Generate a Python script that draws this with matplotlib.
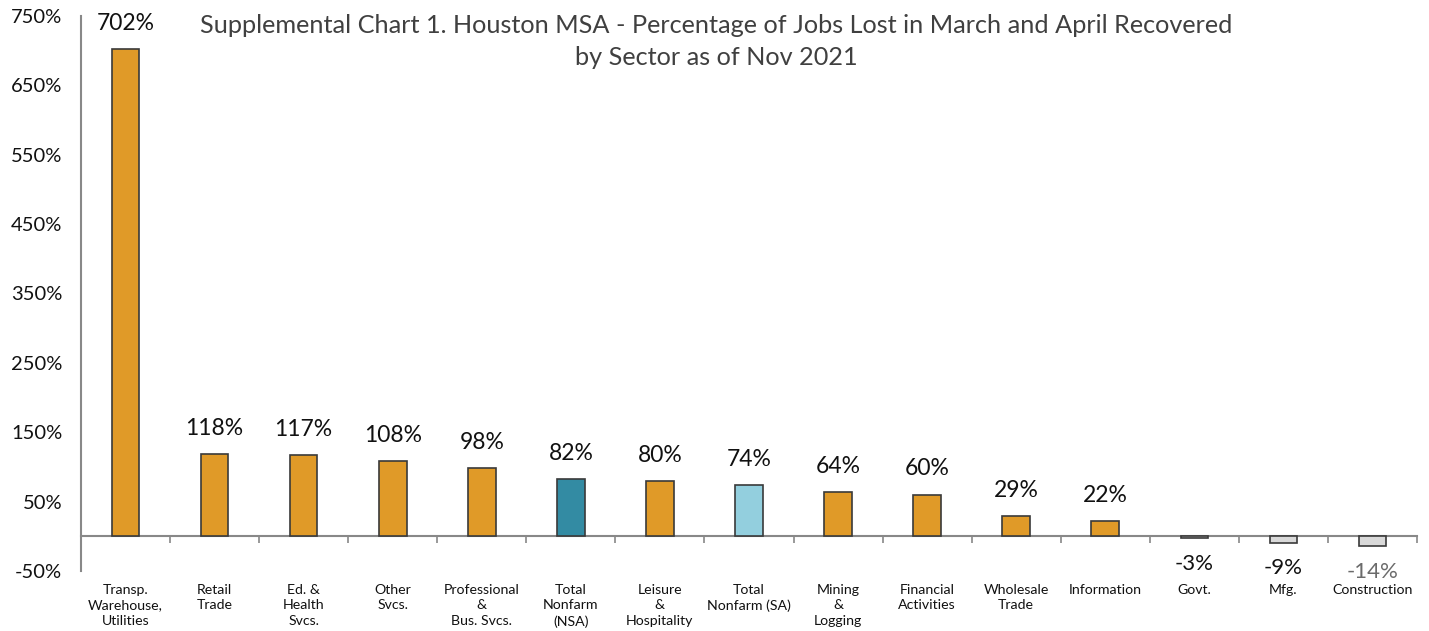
import matplotlib
matplotlib.use("Agg")
import matplotlib.pyplot as plt
import matplotlib.transforms as mtransforms
import numpy as np

plt.rcParams['font.family'] = ['Lato', 'DejaVu Sans']

categories = ["Transp.\nWarehouse,\nUtilities", "Retail\nTrade", "Ed. &\nHealth\nSvcs.",
              "Other\nSvcs.", "Professional\n&\nBus. Svcs.", "Total\nNonfarm\n(NSA)",
              "Leisure\n&\nHospitality", "Total\nNonfarm (SA)", "Mining\n&\nLogging",
              "Financial\nActivities", "Wholesale\nTrade", "Information", "Govt.", "Mfg.",
              "Construction"]
values = [702, 118, 117, 108, 98, 82, 80, 74, 64, 60, 29, 22, -3, -9, -14]
value_labels = ["702%", "118%", "117%", "108%", "98%", "82%", "80%", "74%", "64%",
                "60%", "29%", "22%", "-3%", "-9%", "-14%"]
yticks = [-50, 50, 150, 250, 350, 450, 550, 650, 750]

ORANGE = "#E09A28"
colors = []
for c, v in zip(categories, values):
    if "(NSA)" in c:
        colors.append("#338BA3")
    elif "(SA)" in c:
        colors.append("#93CFDE")
    elif v < 0:
        colors.append("#D9D9D9")
    else:
        colors.append(ORANGE)

fig = plt.figure(figsize=(14.29, 6.31), dpi=100)
ax = fig.add_axes([81/1429, 60/631, (1417-81)/1429, (571-16)/631])

x = np.arange(len(values))
ax.bar(x, values, width=0.31, color=colors, edgecolor="#3a3a3a", linewidth=1.2, zorder=3)

ax.set_xlim(-0.5, len(values) - 0.5)
ax.set_ylim(-50, 750)
ax.set_yticks(yticks)
ax.set_yticklabels([f"{t}%" for t in yticks], fontsize=14.5, color="#111111")
ax.tick_params(axis='y', length=0, pad=13.5)

for s in ['top', 'right']:
    ax.spines[s].set_visible(False)
ax.spines['left'].set_color("#888888")
ax.spines['left'].set_linewidth(1.5)
ax.spines['bottom'].set_position(('data', 0))
ax.spines['bottom'].set_color("#888888")
ax.spines['bottom'].set_linewidth(1.5)
ax.set_xticks(x)
ax.set_xticklabels([])
ax.tick_params(axis='x', which='major', length=0)
ax.set_xticks(np.arange(0.5, len(values), 1.0), minor=True)
ax.tick_params(axis='x', which='minor', length=5, color="#888888", width=1.2, direction='out')

for xi, v, lab in zip(x, values, value_labels):
    if v >= 0:
        ax.annotate(lab, (xi, v), xytext=(0, 18.5), textcoords='offset points',
                    ha='center', va='center', fontsize=16.5, color="#111111")
    else:
        col = "#6b6b6b" if v <= -14 else "#111111"
        ax.annotate(lab, (xi, v), xytext=(0, -18.5), textcoords='offset points',
                    ha='center', va='center', fontsize=16, color=col)

trans = mtransforms.blended_transform_factory(ax.transData, ax.transAxes)
for xi, c, v in zip(x, categories, values):
    ax.annotate(c, (xi, 0), xycoords=trans, xytext=(0, -9), textcoords='offset points',
                ha='center', va='top', fontsize=10.2, color="#111111", linespacing=1.38,
                annotation_clip=False)

fig.text(0.501, 0.978, "Supplemental Chart 1. Houston MSA - Percentage of Jobs Lost in March and April Recovered\nby Sector as of Nov 2021",
         ha='center', va='top', fontsize=18.2, color="#404040", linespacing=1.5)

fig.savefig("out.png", dpi=100)
